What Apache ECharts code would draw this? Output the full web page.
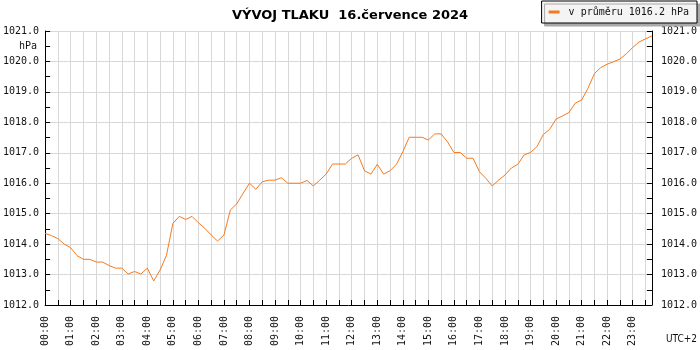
<!DOCTYPE html>
<html>
<head>
<meta charset="utf-8">
<script src="https://cdn.jsdelivr.net/npm/echarts@6/dist/echarts.min.js"></script>
<style>html,body{margin:0;padding:0;background:#fff}#c{width:700px;height:350px}</style>
</head>
<body>
<div id="c"></div>
<script>
// Pressure readings every 15 minutes, 00:00 .. 23:45 (hPa)
const pressure = [
  1014.35, 1014.28, 1014.18, 1014.00, 1013.88, 1013.62, 1013.50, 1013.50,
  1013.41, 1013.41, 1013.30, 1013.21, 1013.21, 1013.02, 1013.10, 1013.02,
  1013.21, 1012.79, 1013.15, 1013.63, 1014.68, 1014.91, 1014.81, 1014.91,
  1014.70, 1014.52, 1014.30, 1014.10, 1014.30, 1015.12, 1015.32, 1015.67,
  1016.00, 1015.80, 1016.05, 1016.10, 1016.10, 1016.18, 1016.00, 1016.00,
  1016.00, 1016.09, 1015.91, 1016.10, 1016.30, 1016.63, 1016.63, 1016.63,
  1016.82, 1016.93, 1016.41, 1016.30, 1016.62, 1016.30, 1016.41, 1016.62,
  1017.03, 1017.51, 1017.51, 1017.51, 1017.42, 1017.62, 1017.62, 1017.36,
  1017.01, 1017.01, 1016.82, 1016.82, 1016.38, 1016.16, 1015.91, 1016.10,
  1016.27, 1016.50, 1016.62, 1016.93, 1017.01, 1017.20, 1017.60, 1017.77,
  1018.11, 1018.21, 1018.32, 1018.63, 1018.73, 1019.12, 1019.60, 1019.80,
  1019.91, 1019.99, 1020.08, 1020.25, 1020.46, 1020.64, 1020.74, 1020.84
];
// Time categories (15-minute steps)
const times = [];
for (let h = 0; h < 24; h++) {
  for (const m of ['00', '15', '30', '45']) times.push(String(h).padStart(2, '0') + ':' + m);
}
const titleText = 'VÝVOJ TLAKU  16.července 2024';
const seriesName = 'v průměru 1016.2 hPa';
const yMin = 1012, yMax = 1021;
const unitLabel = 'hPa';
const tzLabel = 'UTC+2';

const mono = 'DejaVu Sans Mono';
const lineColor = '#f47a20';
const gridColor = '#d8d8d8';

const chart = echarts.init(document.getElementById('c'), null, {renderer: 'canvas'});
const yAxisBase = {
  type: 'value', min: yMin, max: yMax, interval: 1,
  axisLine: {show: true, lineStyle: {color: '#000', width: 1}},
  axisTick: {show: true, inside: true, length: 5, lineStyle: {color: '#000'}},
  minorTick: {show: true, splitNumber: 2, length: 5, lineStyle: {color: '#000'}},
  axisLabel: {fontFamily: mono, fontSize: 10, color: '#111', formatter: v => v.toFixed(1)}
};
chart.setOption({
  animation: false,
  backgroundColor: '#fff',
  title: {
    text: titleText, left: 'center', top: 4,
    textStyle: {fontFamily: 'DejaVu Sans', fontSize: 13, fontWeight: 'bold', color: '#000'}
  },
  legend: {
    right: 3, top: 1, orient: 'horizontal',
    padding: [6, 8, 6, 7],
    backgroundColor: '#f4f4f4', borderColor: '#000', borderWidth: 1,
    shadowColor: '#aaa', shadowBlur: 0, shadowOffsetX: 3, shadowOffsetY: 3,
    icon: 'rect', itemWidth: 11, itemHeight: 3,
    textStyle: {fontFamily: mono, fontSize: 10, color: '#111', padding: [0, 0, 0, 4]},
    data: [seriesName]
  },
  grid: {left: 43, right: 46, top: 31, bottom: 45, containLabel: false},
  xAxis: {
    type: 'category', data: times, boundaryGap: false,
    axisLine: {show: true, lineStyle: {color: '#000', width: 1}},
    axisTick: {show: true, inside: true, length: 5, interval: 1, lineStyle: {color: '#000'}},
    splitLine: {show: true, interval: 1, lineStyle: {color: gridColor, width: 1}},
    axisLabel: {
      interval: 3, rotate: 90, margin: 11, fontFamily: mono, fontSize: 10, color: '#111',
      formatter: v => v
    }
  },
  yAxis: [
    Object.assign({}, yAxisBase, {
      position: 'left',
      splitLine: {show: true, lineStyle: {color: gridColor, width: 1}},
      axisLabel: Object.assign({}, yAxisBase.axisLabel, {margin: 6})
    }),
    Object.assign({}, yAxisBase, {
      position: 'right',
      splitLine: {show: false},
      axisLabel: Object.assign({}, yAxisBase.axisLabel, {margin: 9})
    })
  ],
  graphic: [
    {type: 'text', right: 700 - 37, top: 41,
     style: {text: unitLabel, font: '10px ' + mono, fill: '#111', textAlign: 'right'}},
    {type: 'text', right: 3, top: 334,
     style: {text: tzLabel, font: '10px "DejaVu Sans Condensed", "DejaVu Sans"', fill: '#111'}}
  ],
  series: [{
    name: seriesName, type: 'line', data: pressure, yAxisIndex: 0,
    showSymbol: false, symbol: 'none',
    lineStyle: {color: lineColor, width: 1},
    itemStyle: {color: lineColor}
  }]
});
</script>
</body>
</html>
